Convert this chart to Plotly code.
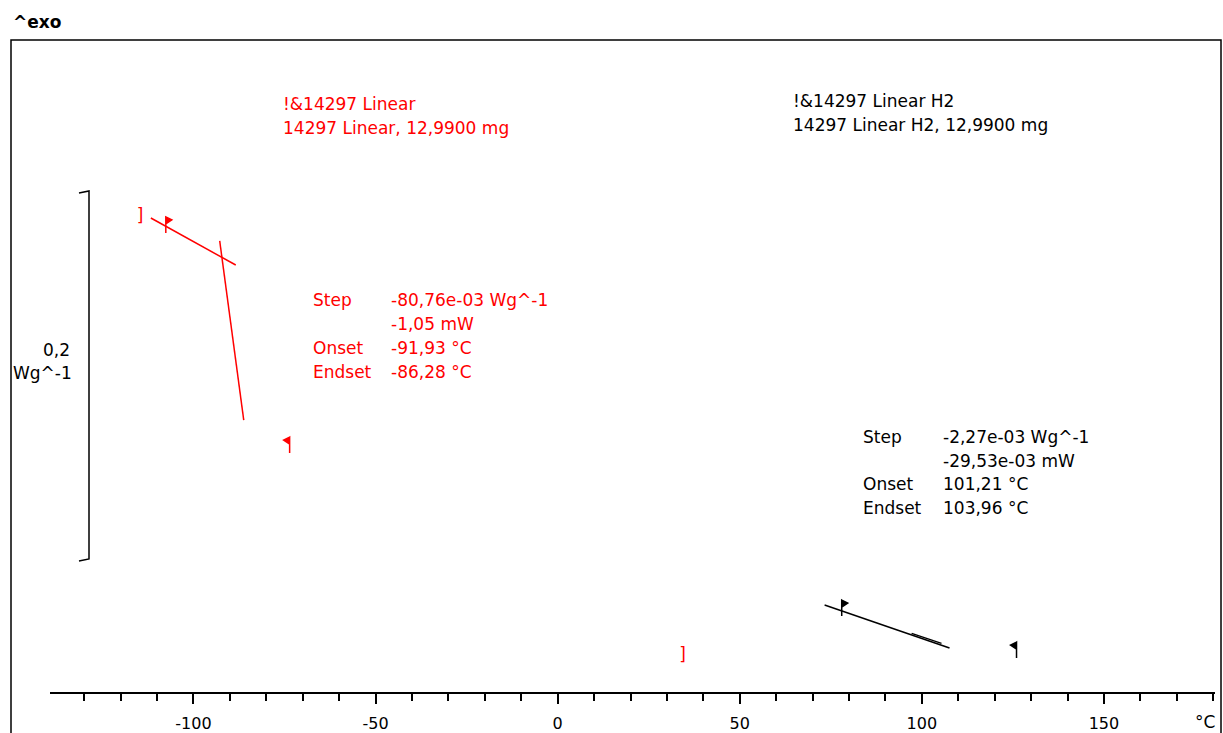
import plotly.graph_objects as go

# ---------------- data (°C, W/g) ----------------
red_tangent1_x = [-111.7, -88.4]
red_tangent1_y = [0.2562, 0.2308]
red_tangent2_x = [-92.8, -86.2]
red_tangent2_y = [0.2438, 0.1470]

black_tangent1_x = [73.3, 107.6]
black_tangent1_y = [0.0470, 0.0238]
black_tangent2_x = [97.2, 105.4]
black_tangent2_y = [0.0317, 0.0263]

# evaluation limit flags (x, y of stem top, direction)
red_flags_x = [-107.6, -73.6]
red_flags_y = [0.2568, 0.1378]
red_flags_dir = ["right", "left"]
black_flags_x = [78.0, 126.0]
black_flags_y = [0.0497, 0.0270]
black_flags_dir = ["right", "left"]

# curve bracket marks
bracket_x = [-114.7, 34.3]
bracket_y = [0.2570, 0.0195]

x_major_ticks = [-100, -50, 0, 50, 100, 150]
x_tick_labels = ["-100", "-50", "0", "50", "100", "150"]

red_header = ["!&14297 Linear", "14297 Linear, 12,9900 mg"]
black_header = ["!&14297 Linear H2", "14297 Linear H2, 12,9900 mg"]
red_result_names = ["Step", "", "Onset", "Endset"]
red_result_values = ["-80,76e-03 Wg^-1", "-1,05 mW", "-91,93 °C", "-86,28 °C"]
black_result_names = ["Step", "", "Onset", "Endset"]
black_result_values = ["-2,27e-03 Wg^-1", "-29,53e-03 mW", "101,21 °C", "103,96 °C"]

scale_bar_label = ["0,2", "Wg^-1"]

# ---------------- layout geometry ----------------
W_FIG, H_FIG = 1223, 733
L, R, T, B = 50, 8, 40, 41
PW = W_FIG - L - R
PH = H_FIG - T - B
X_RANGE = [-139.4, 180.5]
Y_RANGE = [0, PH / 1850.0]

FONT = "DejaVu Sans, Liberation Sans, Arial, sans-serif"
RED = "#ff0000"


def px(xp):
    return (xp - L) / PW


def py(yp):
    return (H_FIG - B - yp) / PH


fig = go.Figure()

for xs, ys in [(red_tangent1_x, red_tangent1_y), (red_tangent2_x, red_tangent2_y)]:
    fig.add_trace(go.Scatter(x=xs, y=ys, mode="lines", line=dict(color=RED, width=1.5),
                             hoverinfo="skip", showlegend=False))
for xs, ys in [(black_tangent1_x, black_tangent1_y), (black_tangent2_x, black_tangent2_y)]:
    fig.add_trace(go.Scatter(x=xs, y=ys, mode="lines", line=dict(color="black", width=1.5),
                             hoverinfo="skip", showlegend=False))

fig.add_trace(go.Scatter(x=bracket_x, y=bracket_y, mode="text", text=["]"] * len(bracket_x),
                         textfont=dict(color=RED, size=17, family=FONT),
                         hoverinfo="skip", showlegend=False))

shapes = []


def flag_path(direction):
    if direction == "right":
        return "M0,0 L0,-16 M0,0 L6,-3 L0,-7 Z"
    return "M0,0 L0,-16 M0,0 L-6,-3 L0,-7 Z"


for xs, ys, ds, col in [(red_flags_x, red_flags_y, red_flags_dir, RED),
                        (black_flags_x, black_flags_y, black_flags_dir, "black")]:
    for x, y, d in zip(xs, ys, ds):
        shapes.append(dict(type="path", xref="x", yref="y", xsizemode="pixel", ysizemode="pixel",
                           xanchor=x, yanchor=y, path=flag_path(d),
                           line=dict(color=col, width=1.5), fillcolor=col))

# outer frame
shapes.append(dict(type="rect", xref="paper", yref="paper",
                   x0=px(11), x1=px(1221), y0=py(760), y1=py(40),
                   line=dict(color="black", width=1.5), fillcolor="rgba(0,0,0,0)"))

# scale bar bracket (0.2 W/g)
shapes.append(dict(type="path", xref="paper", yref="paper",
                   path=f"M{px(79)},{py(193)} L{px(89)},{py(191)} L{px(89)},{py(559)} L{px(79)},{py(561)}",
                   line=dict(color="black", width=1.5)))

annotations = []


def add_text(text, xp, yp, color="black", size=17, anchor="left", bold=False):
    annotations.append(dict(text=f"<b>{text}</b>" if bold else text, x=px(xp), y=py(yp),
                            xref="paper", yref="paper", showarrow=False,
                            xanchor=anchor, yanchor="middle",
                            font=dict(color=color, size=size, family=FONT)))


add_text("^exo", 11, 22, bold=True, size=17)
for i, t in enumerate(red_header):
    add_text(t, 281, 104 + 24 * i, color=RED)
for i, t in enumerate(black_header):
    add_text(t, 791, 101 + 24 * i)
for i, (n, v) in enumerate(zip(red_result_names, red_result_values)):
    if n:
        add_text(n, 311, 300 + 24 * i, color=RED)
    add_text(v, 389, 300 + 24 * i, color=RED)
for i, (n, v) in enumerate(zip(black_result_names, black_result_values)):
    if n:
        add_text(n, 861, 437 + 23.7 * i)
    add_text(v, 941, 437 + 23.7 * i)
add_text(scale_bar_label[0], 72, 350, anchor="right")
add_text(scale_bar_label[1], 74, 373, anchor="right")
add_text("°C", 1205, 722, anchor="center")

fig.update_layout(
    width=W_FIG, height=H_FIG,
    margin=dict(l=L, r=R, t=T, b=B, pad=0),
    paper_bgcolor="white", plot_bgcolor="white",
    shapes=shapes, annotations=annotations,
    xaxis=dict(range=X_RANGE, showgrid=False, zeroline=False, showline=True,
               automargin=False,
               linecolor="black", linewidth=1.5, ticks="outside", ticklen=10,
               tickwidth=1.5, tickcolor="black", tickvals=x_major_ticks,
               ticktext=x_tick_labels, tickfont=dict(size=16, family=FONT, color="black"),
               ticklabelstandoff=6,
               minor=dict(dtick=10, tick0=0, ticks="outside", ticklen=7,
                          tickwidth=1.5, tickcolor="black", showgrid=False)),
    yaxis=dict(range=Y_RANGE, visible=False, showgrid=False, zeroline=False,
               automargin=False),
)

fig.write_html("out.html")
